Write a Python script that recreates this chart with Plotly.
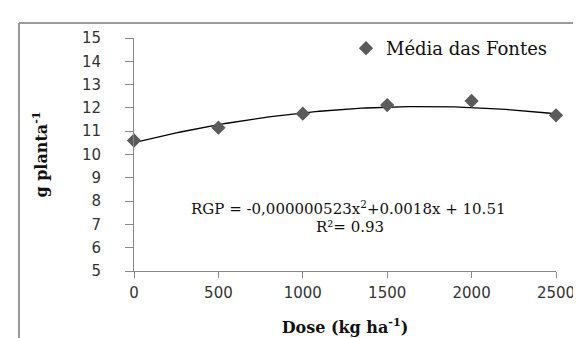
import numpy as np
import plotly.graph_objects as go

dose = [0, 500, 1000, 1500, 2000, 2500]
media = [10.6, 11.15, 11.75, 12.12, 12.3, 11.68]

# Trendline coefficients printed on the chart
coef_a = -0.000000523
coef_b = 0.0018
coef_c = 10.51

xt = np.linspace(0, 2500, 101)
yt = coef_a * xt**2 + coef_b * xt + coef_c

x_ticks = [0, 500, 1000, 1500, 2000, 2500]
y_ticks = list(range(5, 16))

SERIF = "DejaVu Serif, Liberation Serif, serif"
SANS = "DejaVu Sans, Verdana, sans-serif"

W, H = 581, 338
L, R, T, B = 126, 33, 30, 75
pw, ph = W - L - R, H - T - B

def px_x(p):
    return (p - L) / pw

def px_y(p):
    return (H - B - p) / ph

fig = go.Figure()
fig.add_trace(go.Scatter(x=xt, y=yt, mode="lines", line=dict(color="black", width=1.3),
                         showlegend=False, hoverinfo="skip"))
fig.add_trace(go.Scatter(x=dose, y=media, mode="markers", name="Média das Fontes",
                         marker=dict(symbol="diamond", size=11, color="#5b5b5b"),
                         cliponaxis=False))

fig.add_annotation(x=px_x(340), y=px_y(200), xref="paper", yref="paper", showarrow=False,
                   text="RGP = -0,000000523x<sup>2</sup>+0.0018x + 10.51",
                   font=dict(family=SERIF, size=15, color="#111"),
                   xanchor="center", yanchor="middle")
fig.add_annotation(x=px_x(342), y=px_y(219), xref="paper", yref="paper", showarrow=False,
                   text="R²= 0.93",
                   font=dict(family=SERIF, size=15, color="#111"),
                   xanchor="center", yanchor="middle")

# outer border (left and top only visible)
fig.add_shape(type="line", xref="paper", yref="paper", x0=px_x(11), x1=px_x(11),
              y0=px_y(15), y1=px_y(345), line=dict(color="#9a9a9a", width=2))
fig.add_shape(type="line", xref="paper", yref="paper", x0=px_x(11), x1=px_x(590),
              y0=px_y(15), y1=px_y(15), line=dict(color="#9a9a9a", width=2))

fig.update_layout(
    width=W, height=H,
    margin=dict(l=L, r=R, t=T, b=B, autoexpand=False),
    paper_bgcolor="white", plot_bgcolor="white",
    legend=dict(x=px_x(338), y=px_y(22), xanchor="left", yanchor="top",
                font=dict(family=SERIF, size=18, color="#111"),
                bgcolor="rgba(0,0,0,0)", itemwidth=30),
    xaxis=dict(range=[0, 2500], tickvals=x_ticks, ticks="outside", ticklen=6,
               tickcolor="#888", showline=True, linecolor="#888", linewidth=1,
               showgrid=False, zeroline=False, ticklabelstandoff=2,
               tickfont=dict(family=SANS, size=15, color="#333"),
               title=dict(text="<b>Dose (kg ha<sup>-1</sup>)</b>", standoff=20,
                          font=dict(family=SERIF, size=16, color="#111"))),
    yaxis=dict(range=[5, 15], tickvals=y_ticks, ticks="outside", ticklen=8,
               tickcolor="#888", showline=True, linecolor="#888", linewidth=1,
               showgrid=False, zeroline=False, ticklabelstandoff=21,
               tickfont=dict(family=SANS, size=15, color="#333"),
               title=dict(text="<b>g planta<sup>-1</sup></b>", standoff=30,
                          font=dict(family=SERIF, size=16, color="#111"))),
)

fig.write_html("out.html")
